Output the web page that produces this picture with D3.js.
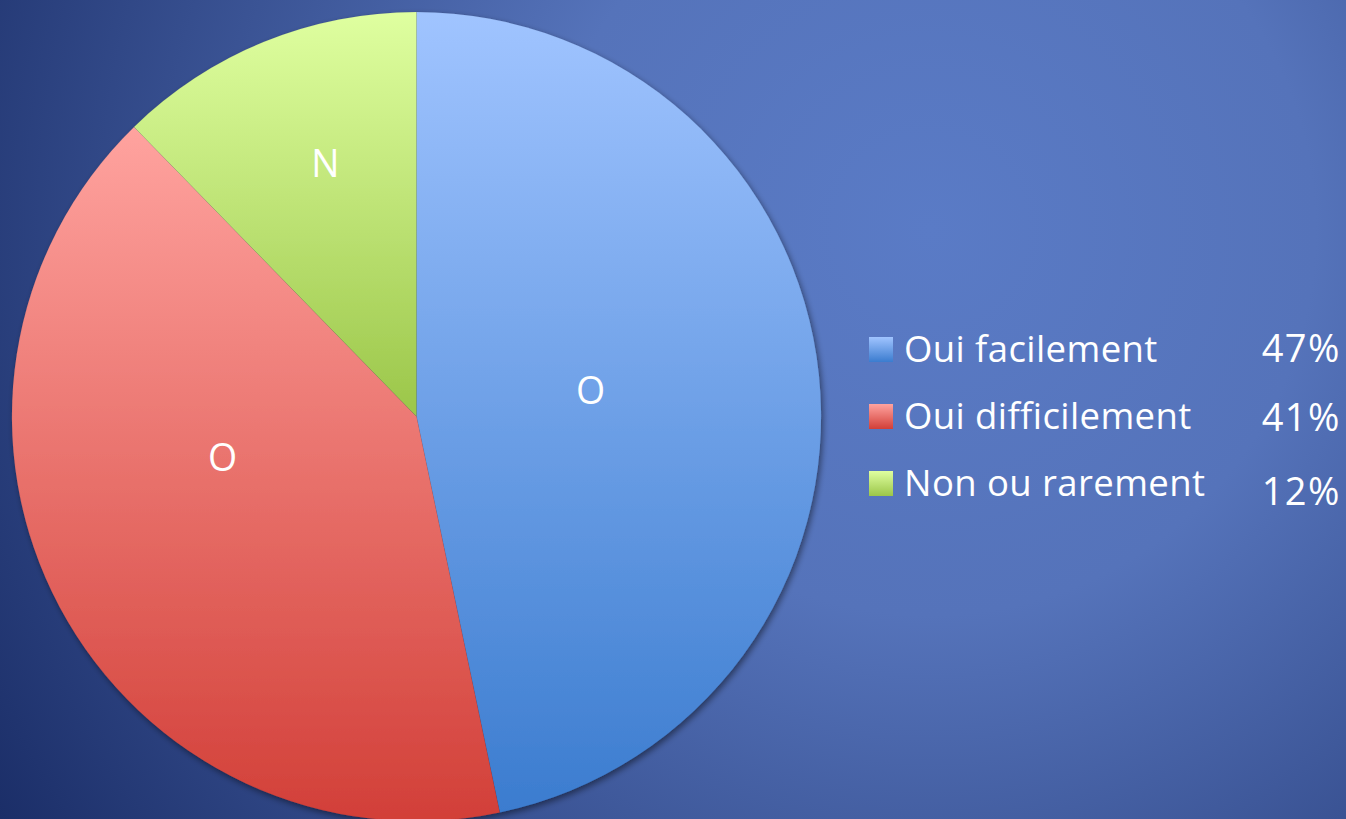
<!DOCTYPE html>
<html><head><meta charset="utf-8">
<script src="https://cdn.jsdelivr.net/npm/d3@7"></script>
<style>html,body{margin:0;padding:0;overflow:hidden;background:#3a5596;}</style>
</head><body>
<script>
const categories = ["Oui facilement", "Oui difficilement", "Non ou rarement"];
const values = [46.7, 41.0, 12.3];
const pctLabels = ["47%", "41%", "12%"];
const sliceLabels = ["O", "O", "N"];
const colorTop = ["#a0c4ff", "#ffa39f", "#dfffa0"];
const colorBottom = ["#3b7ccf", "#d23f38", "#9bc649"];
// label placement within each slice (fraction of angle span, fraction of radius)
const labelAngleFrac = [0.484, 0.61, 0.553];
const labelRadiusFrac = [0.435, 0.49, 0.665];

const W = 1346, H = 819;
const svg = d3.select("body").append("svg").attr("width", W).attr("height", H);
const defs = svg.append("defs");

const bg = defs.append("radialGradient").attr("id", "bg").attr("gradientUnits", "userSpaceOnUse")
  .attr("cx", 930).attr("cy", 230).attr("r", 1100);
bg.append("stop").attr("offset", 0).attr("stop-color", "#5a7bc6");
bg.append("stop").attr("offset", 0.35).attr("stop-color", "#5573ba");
bg.append("stop").attr("offset", 1).attr("stop-color", "#1b2e68");
svg.append("rect").attr("width", W).attr("height", H).attr("fill", "url(#bg)");

categories.forEach((c, i) => {
  const g = defs.append("linearGradient").attr("id", "g" + i).attr("x1", 0).attr("y1", 0).attr("x2", 0).attr("y2", 1);
  g.append("stop").attr("offset", 0).attr("stop-color", colorTop[i]);
  g.append("stop").attr("offset", 1).attr("stop-color", colorBottom[i]);
});
const f = defs.append("filter").attr("id", "sh").attr("x", "-10%").attr("y", "-10%").attr("width", "120%").attr("height", "120%");
f.append("feDropShadow").attr("dx", 2).attr("dy", 3).attr("stdDeviation", 3).attr("flood-color", "#000").attr("flood-opacity", 0.45);

const cx = 416.5, cy = 416.6, R = 404.6;
const pie = d3.pie().sort(null).value(d => d);
const arcs = pie(values);
const arc = d3.arc().innerRadius(0).outerRadius(R);
const g = svg.append("g").attr("transform", `translate(${cx},${cy})`);
g.append("g").attr("filter", "url(#sh)").selectAll("path").data(arcs).enter().append("path")
  .attr("d", arc).attr("fill", (d, i) => `url(#g${i})`)
  .attr("stroke", "rgba(0,0,0,0.08)").attr("stroke-width", 0.6);

g.selectAll("text.sl").data(arcs).enter().append("text").attr("class", "sl")
  .attr("transform", (d, i) => {
    const a = d.startAngle + labelAngleFrac[i] * (d.endAngle - d.startAngle);
    const r = labelRadiusFrac[i] * R;
    return `translate(${r * Math.sin(a)},${-r * Math.cos(a)})`;
  })
  .attr("text-anchor", "middle").attr("dy", "0.36em")
  .attr("fill", "#fff").attr("font-family", "Open Sans, sans-serif").attr("font-size", 37.5)
  .text((d, i) => sliceLabels[i]);

const legY = d3.scalePoint().domain(categories).range([349.5, 483.5]);
const leg = svg.append("g");
leg.selectAll("rect").data(categories).enter().append("rect")
  .attr("x", 869).attr("y", d => legY(d) - 12.5).attr("width", 24).attr("height", 25)
  .attr("fill", (d, i) => `url(#g${i})`);
leg.selectAll("text.lt").data(categories).enter().append("text").attr("class", "lt")
  .attr("x", 904).attr("y", d => legY(d) + 12.5).attr("fill", "#fff")
  .attr("font-family", "Open Sans, sans-serif").attr("font-size", 36.5).attr("letter-spacing", 0.4).text(d => d);
const pctDy = [12.5, 14.5, 21.5];
leg.selectAll("text.pc").data(pctLabels).enter().append("text").attr("class", "pc")
  .attr("x", 1341).attr("y", (d, i) => legY(categories[i]) + pctDy[i]).attr("text-anchor", "end").attr("fill", "#fff")
  .attr("font-family", "Open Sans, sans-serif").attr("font-size", 38).attr("letter-spacing", 1.5).text(d => d);
</script>
</body></html>
